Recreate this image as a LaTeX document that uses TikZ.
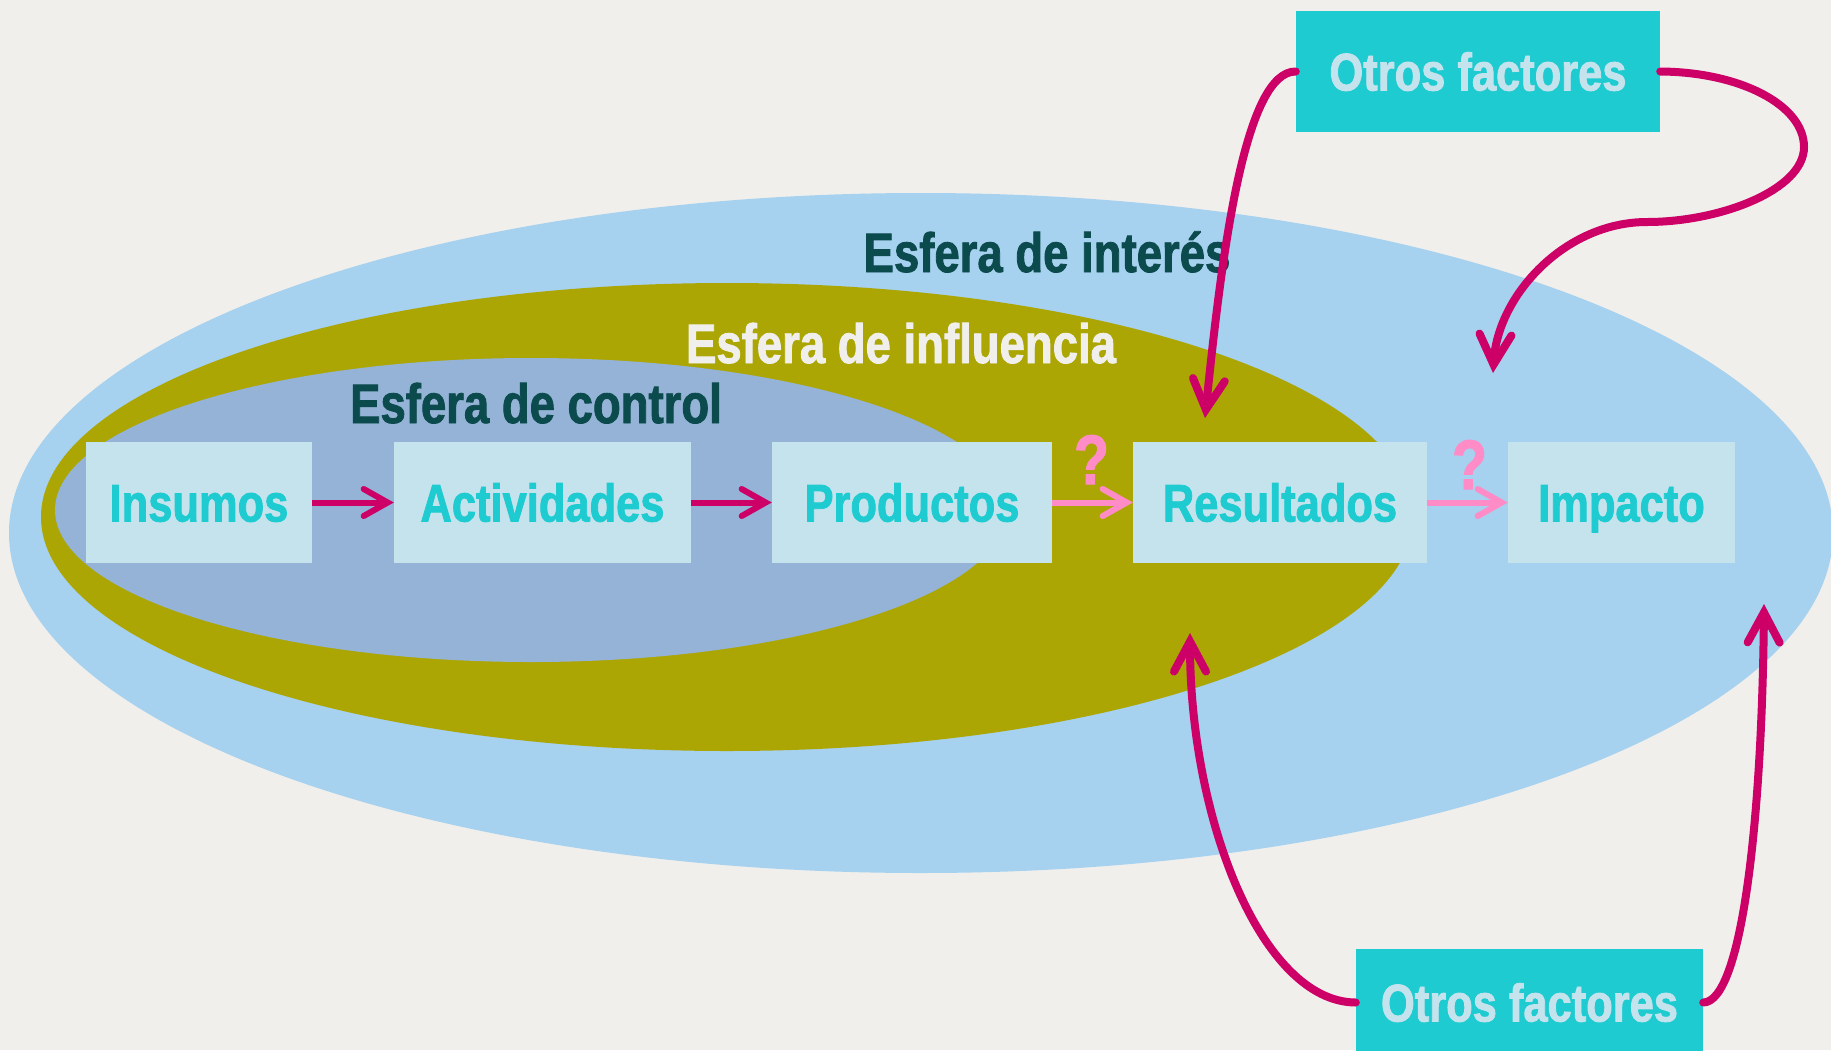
\documentclass[tikz,border=0pt]{standalone}
\usepackage{fontspec}
\newfontfamily\nf{Liberation Sans Bold}[FakeStretch=0.82, RawFeature={embolden=1.5}]
\usetikzlibrary{arrows.meta}
\definecolor{bgc}{HTML}{F0EFEB}
\definecolor{outerc}{HTML}{A6D1EF}
\definecolor{olivec}{HTML}{ACA605}
\definecolor{innerc}{HTML}{94B3D6}
\definecolor{boxfill}{HTML}{C5E3ED}
\definecolor{boxtext}{HTML}{1ECBD0}
\definecolor{darklab}{HTML}{0B4A4D}
\definecolor{mag}{HTML}{CC0066}
\definecolor{pinkc}{HTML}{FF8CC6}
\begin{document}
\begin{tikzpicture}[x=1pt,y=-1pt,
  box/.style={fill=boxfill, text=boxtext, font=\nf\fontsize{53}{60}\selectfont,
    minimum height=121pt, inner sep=0pt, text height=38pt, text depth=0pt},
  otros/.style={fill=boxtext, text=boxfill, font=\nf\fontsize{53}{60}\selectfont,
    inner sep=0pt, text height=38pt, text depth=0pt},
  lab/.style={font=\nf\fontsize{55.5}{60}\selectfont, inner sep=0pt, anchor=base},
  qmark/.style={text=pinkc, font=\nf\fontsize{70}{72}\selectfont, inner sep=0pt, anchor=base},
  marrow/.style={draw=mag, line width=6pt, -{Straight Barb[length=24pt,width=27pt,line cap=round]}},
  parrow/.style={draw=pinkc, line width=6pt, -{Straight Barb[length=24pt,width=27pt,line cap=round]}},
  carrow/.style={draw=mag, line width=8pt, line cap=round, -{Straight Barb[length=30pt,width=32pt,line cap=round]}}
]
\clip (0,0) rectangle (1831,1050);
\fill[bgc] (0,0) rectangle (1831,1050);
\fill[outerc] (921,533) ellipse [x radius=912pt, y radius=340pt];
\fill[olivec] (727,517) ellipse [x radius=686pt, y radius=234pt];
\fill[innerc] (531,510) ellipse [x radius=476pt, y radius=152pt];

\node[lab, text=darklab] (li) at (1047,272) {Esfera de interés};
\node[lab, text=bgc] (lf) at (901,363) {Esfera de influencia};
\node[lab, text=darklab] (lc) at (536,423) {Esfera de control};

\node[box, minimum width=226pt] (ins) at (199,502.5) {Insumos};
\node[box, minimum width=297pt] (act) at (542.5,502.5) {Actividades};
\node[box, minimum width=280pt] (prod) at (912,502.5) {Productos};
\node[box, minimum width=294pt] (res) at (1280,502.5) {Resultados};
\node[box, minimum width=227pt] (imp) at (1621.5,502.5) {Impacto};

\node[otros, minimum width=364pt, minimum height=121pt] (ot) at (1478,71.5) {Otros factores};
\node[otros, minimum width=347pt, minimum height=107pt] (ob) at (1529.5,1002.5) {Otros factores};

\draw[marrow] (ins) -- (act);
\draw[marrow] (act) -- (prod);
\draw[parrow] (prod) -- (res);
\draw[parrow] (res) -- (imp);
\node[qmark] (q1) at (1091.5,484) {?};
\node[qmark] (q2) at (1469.5,489) {?};

\coordinate (t1) at (1205,418);
\coordinate (t2) at (1493,373);
\coordinate (t3) at (1190,633);
\coordinate (t4) at (1764,604);

\draw[carrow] (ot.west) .. controls (1245,71) and (1222,250) .. (t1);
\draw[carrow] (ot.east) .. controls (1740,72) and (1804,105) .. (1804,147)
  .. controls (1804,190) and (1720,222) .. (1647,222)
  .. controls (1565,222) and (1498,295) .. (t2);
\draw[carrow] (ob.west) .. controls (1262,1002) and (1190,820) .. (t3);
\draw[carrow] (ob.east) .. controls (1742,1002) and (1762,820) .. (t4);
\end{tikzpicture}
\end{document}
